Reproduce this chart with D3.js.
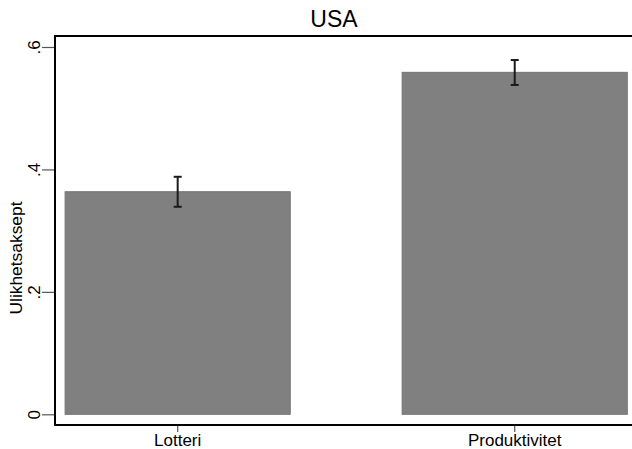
<!DOCTYPE html>
<html><head><meta charset="utf-8">
<script src="https://cdn.jsdelivr.net/npm/d3@7"></script>
<style>body{margin:0;background:#fff}svg{display:block}text{font-family:Arial,"Liberation Sans",sans-serif}</style>
</head><body>
<svg id="c" width="632" height="449"></svg>
<script>
const categories = ["Lotteri", "Produktivitet"];
const means = [0.3636, 0.5586];
const lower = [0.339, 0.538];
const upper = [0.388, 0.5787];
const yTicks = [0, 0.2, 0.4, 0.6];
const yTickLabels = ["0", ".2", ".4", ".6"];
const chartTitle = "USA";
const yTitle = "Ulikhetsaksept";

const svg = d3.select("#c");
const mLeft = 55, mTop = 36, mBottom = 425, mRight = 640;

const y = d3.scaleLinear().domain([0, 0.6]).range([414.3, 47]);
const x = d3.scaleBand().domain(categories).range([mLeft, 637.4]).paddingInner(0.332).paddingOuter(0.03);

svg.append("rect").attr("width", 632).attr("height", 449).attr("fill", "#fff");

// bars
svg.selectAll("rect.bar").data(categories).enter().append("rect")
  .attr("class", "bar")
  .attr("x", d => x(d)).attr("width", x.bandwidth())
  .attr("y", (d, i) => y(means[i])).attr("height", (d, i) => y(0) - y(means[i]))
  .attr("fill", "#808080").attr("stroke", "#747474").attr("stroke-width", 1);

// error bars
const eb = svg.append("g").attr("stroke", "#1a1a1a").attr("stroke-width", 2);
categories.forEach((c, i) => {
  const cx = x(c) + x.bandwidth() / 2;
  eb.append("line").attr("x1", cx).attr("x2", cx).attr("y1", y(lower[i])).attr("y2", y(upper[i]));
  eb.append("line").attr("x1", cx - 4).attr("x2", cx + 4).attr("y1", y(lower[i])).attr("y2", y(lower[i]));
  eb.append("line").attr("x1", cx - 4).attr("x2", cx + 4).attr("y1", y(upper[i])).attr("y2", y(upper[i]));
});

// frame (top, left, bottom)
svg.append("path").attr("d", `M${mRight},${mTop}H${mLeft}V${mBottom}H${mRight}`)
  .attr("fill", "none").attr("stroke", "#000").attr("stroke-width", 2);

// y axis
const yAxis = d3.axisLeft(y).tickValues(yTicks).tickFormat((d, i) => yTickLabels[i]).tickSize(12).tickPadding(2);
const gy = svg.append("g").attr("transform", `translate(${mLeft - 1},0)`).call(yAxis);
gy.select(".domain").remove();
gy.selectAll(".tick line").attr("stroke", "#555").attr("stroke-width", 1.2);
gy.selectAll(".tick text").attr("font-size", 17).attr("fill", "#000")
  .attr("text-anchor", "middle").attr("x", 0).attr("y", 0).attr("dy", 0)
  .attr("transform", "translate(-14,0) rotate(-90)");

// x axis
const xAxis = d3.axisBottom(x).tickSize(6).tickPadding(3);
const gx = svg.append("g").attr("transform", `translate(0,${mBottom + 1})`).call(xAxis);
gx.select(".domain").remove();
gx.selectAll(".tick line").attr("stroke", "#555").attr("stroke-width", 1.2);
gx.selectAll(".tick text").attr("font-size", 17).attr("fill", "#000").attr("y", 20).attr("dy", 0);

// titles
svg.append("text").attr("x", 334).attr("y", 27).attr("text-anchor", "middle")
  .attr("font-size", 23).attr("fill", "#000").text(chartTitle);
svg.append("text").attr("transform", "translate(22,258) rotate(-90)").attr("text-anchor", "middle")
  .attr("font-size", 17.4).attr("fill", "#000").text(yTitle);
</script>
</body></html>
